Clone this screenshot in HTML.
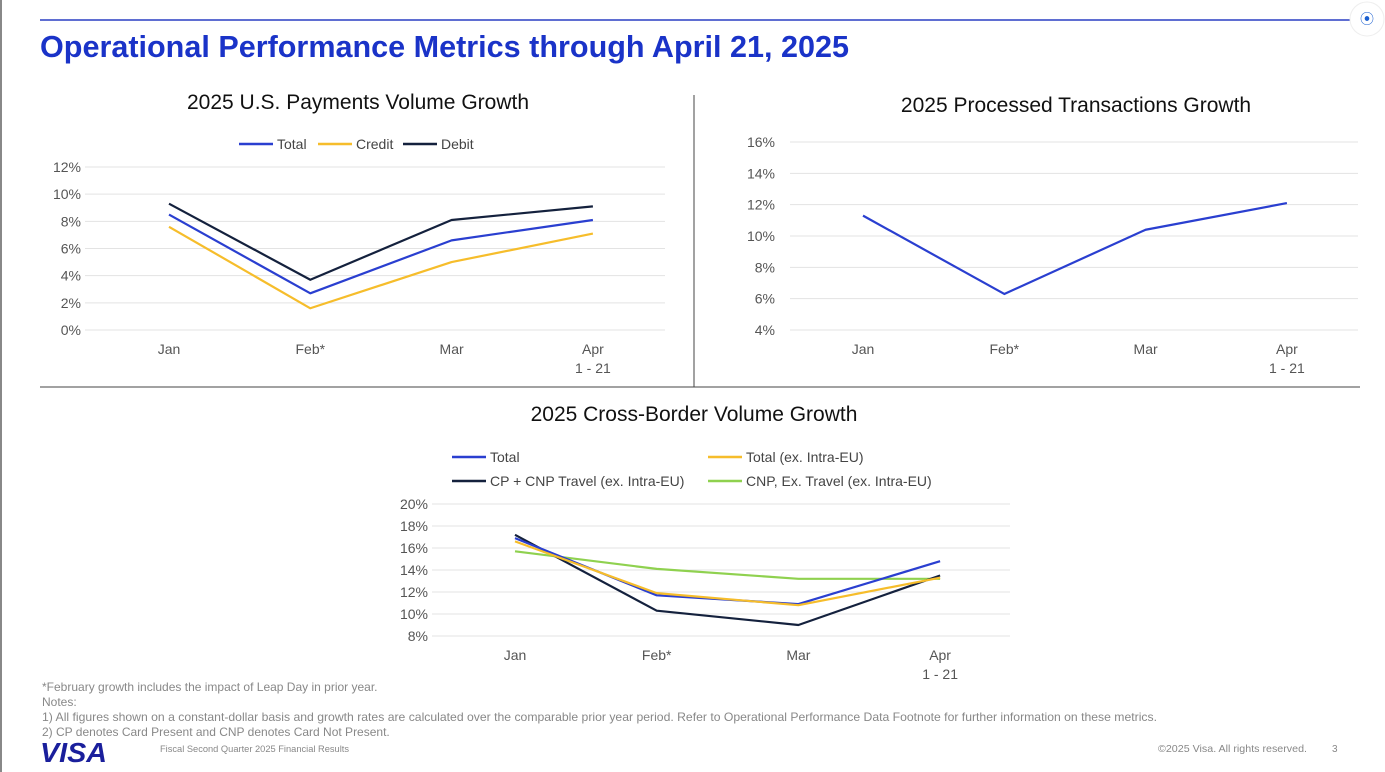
<!DOCTYPE html>
<html><head><meta charset="utf-8"><style>
body{margin:0;background:#fff;font-family:"Liberation Sans",sans-serif;}
#wrap{position:relative;width:1385px;height:772px;overflow:hidden;background:#fff;}
svg text{font-family:"Liberation Sans",sans-serif;}
</style></head><body>
<div id="wrap">
<svg id="s" width="1385" height="772">
<rect x="0" y="0" width="2" height="772" fill="#888"/>
<line x1="40" y1="20" x2="1350" y2="20" stroke="#2a3fc4" stroke-width="1.5"/>
<text x="40" y="57" font-size="30.5" font-weight="bold" fill="#1a33c8" textLength="809" lengthAdjust="spacingAndGlyphs">Operational Performance Metrics through April 21, 2025</text>
<line x1="694" y1="95" x2="694" y2="387" stroke="#444" stroke-width="1"/>
<line x1="40" y1="387" x2="1360" y2="387" stroke="#444" stroke-width="1"/>
<circle cx="1367" cy="19" r="17" fill="#fff" stroke="#eee"/>
<text x="1367" y="24" font-size="14" fill="#1a5fd0" text-anchor="middle">⦿</text>
<text x="358" y="109" font-size="21" fill="#111" text-anchor="middle">2025 U.S. Payments Volume Growth</text>
<text x="1076" y="112" font-size="21" fill="#111" text-anchor="middle">2025 Processed Transactions Growth</text>
<text x="694" y="421" font-size="21" fill="#111" text-anchor="middle">2025 Cross-Border Volume Growth</text>
<text x="42" y="691" font-size="12" fill="#888">*February growth includes the impact of Leap Day in prior year.</text>
<text x="42" y="706" font-size="12" fill="#888">Notes:</text>
<text x="42" y="721" font-size="12" fill="#888" textLength="1115" lengthAdjust="spacingAndGlyphs">1) All figures shown on a constant-dollar basis and growth rates are calculated over the comparable prior year period. Refer to Operational Performance Data Footnote for further information on these metrics.</text>
<text x="42" y="736" font-size="12" fill="#888">2) CP denotes Card Present and CNP denotes Card Not Present.</text>
<text x="40" y="762" font-size="28" font-weight="bold" font-style="italic" fill="#1a1f9c" textLength="67" lengthAdjust="spacingAndGlyphs">VISA</text>
<text x="160" y="752" font-size="9.5" fill="#888" textLength="189" lengthAdjust="spacingAndGlyphs">Fiscal Second Quarter 2025 Financial Results</text>
<text x="1158" y="752" font-size="10.5" fill="#888" textLength="149" lengthAdjust="spacingAndGlyphs">©2025 Visa. All rights reserved.</text>
<text x="1332" y="752" font-size="10" fill="#888">3</text>
</svg>
</div>
<script>
const months = ["Jan","Feb*","Mar","Apr"];
const c1Total = [8.5,2.7,6.6,8.1];
const c1Credit = [7.6,1.6,5.0,7.1];
const c1Debit = [9.3,3.7,8.1,9.1];
const c1Ticks = [0,2,4,6,8,10,12];
const c2Values = [11.3,6.3,10.4,12.1];
const c2Ticks = [4,6,8,10,12,14,16];
const c3Total = [16.9,11.7,10.9,14.8];
const c3TotalExEU = [16.6,11.9,10.8,13.3];
const c3CPTravel = [17.2,10.3,9.0,13.5];
const c3CNPExTravel = [15.7,14.1,13.2,13.2];
const c3Ticks = [8,10,12,14,16,18,20];

const NS="http://www.w3.org/2000/svg";
const svg=document.getElementById('s');
function mk(tag,attrs,parent){const e=document.createElementNS(NS,tag);for(const k in attrs)e.setAttribute(k,attrs[k]);(parent||svg).appendChild(e);return e;}

function chart(cfg){
  const g=mk('g',{});
  
  
  const y=v=>cfg.y0-(v-cfg.vmin)*(cfg.y0-cfg.y1)/(cfg.vmax-cfg.vmin);
  const x=i=>cfg.x0+i*cfg.dx;
  cfg.ticks.forEach(t=>{
    const l=mk('line',{x1:cfg.gx0,x2:cfg.gx1,y1:y(t),y2:y(t),stroke:'#e3e3e3','stroke-width':1},g);
    
    
    const tx=mk('text',{x:cfg.lx,y:y(t)+5,'font-size':14,fill:'#555','text-anchor':'end'},g);
    tx.textContent=t+'%';
    
    
  });
  months.forEach((m,i)=>{
    const tx=mk('text',{x:x(i),y:cfg.xl,'font-size':14,fill:'#555','text-anchor':'middle'},g);
    tx.textContent=m;
    
    
    if(i===3){const t2=mk('text',{x:x(i),y:cfg.xl+19,'font-size':14,fill:'#555','text-anchor':'middle'},g);t2.textContent='1 - 21';
      
      }
  });
  cfg.series.forEach(s=>{
    const p=mk('polyline',{points:s.v.map((v,i)=>x(i)+','+y(v)).join(' '),fill:'none',stroke:s.c,'stroke-width':2.2,'stroke-linejoin':'round'},g);
    
    
  });
}
function legend(items){
  items.forEach(it=>{
    const l=mk('line',{x1:it.x,x2:it.x+34,y1:it.y,y2:it.y,stroke:it.c,'stroke-width':2.5});
    
    
    const t=mk('text',{x:it.x+38,y:it.y+5,'font-size':14,fill:'#444'});
    t.textContent=it.t;
    
    
  });
}
chart({name:'us-payments-chart',vmin:0,vmax:12,y0:330,y1:167,x0:169,dx:141.3,gx0:85,gx1:665,lx:81,xl:354,ticks:c1Ticks,
  series:[{v:c1Credit,c:'#f6bd2b',n:'line-credit'},{v:c1Total,c:'#2a3fd0',n:'line-total'},{v:c1Debit,c:'#14213d',n:'line-debit'}]});
chart({name:'processed-transactions-chart',vmin:4,vmax:16,y0:330,y1:142,x0:863,dx:141.3,gx0:790,gx1:1358,lx:775,xl:354,ticks:c2Ticks,
  series:[{v:c2Values,c:'#2a3fd0',n:'line-transactions'}]});
chart({name:'cross-border-chart',vmin:8,vmax:20,y0:636,y1:504,x0:515,dx:141.7,gx0:432,gx1:1010,lx:428,xl:660,ticks:c3Ticks,
  series:[{v:c3CNPExTravel,c:'#8fd14f',n:'line-cnp-ex-travel'},{v:c3CPTravel,c:'#14213d',n:'line-cp-cnp-travel'},{v:c3Total,c:'#2a3fd0',n:'line-total'},{v:c3TotalExEU,c:'#f6bd2b',n:'line-total-ex-eu'}]});
legend([{x:239,y:144,c:'#2a3fd0',t:'Total'},{x:318,y:144,c:'#f6bd2b',t:'Credit'},{x:403,y:144,c:'#14213d',t:'Debit'}]);
legend([{x:452,y:457,c:'#2a3fd0',t:'Total'},{x:708,y:457,c:'#f6bd2b',t:'Total (ex. Intra-EU)'},
  {x:452,y:481,c:'#14213d',t:'CP + CNP Travel (ex. Intra-EU)'},{x:708,y:481,c:'#8fd14f',t:'CNP, Ex. Travel (ex. Intra-EU)'}]);
</script>
</body></html>
